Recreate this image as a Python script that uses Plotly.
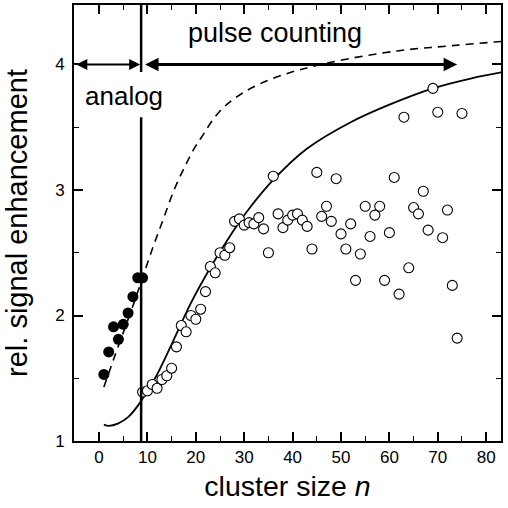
import plotly.graph_objects as go

# analog (filled) points
analog_n = [1, 2, 3, 4, 5, 6, 7, 8, 9]
analog_val = [1.53, 1.71, 1.91, 1.81, 1.93, 2.02, 2.15, 2.30, 2.30]

# pulse counting (open) points
pulse_n = list(range(9, 76))
pulse_val = [1.39, 1.40, 1.45, 1.42, 1.49, 1.52, 1.58, 1.75, 1.92, 1.87,
             2.00, 1.97, 2.05, 2.19, 2.39, 2.34, 2.50, 2.48, 2.54, 2.75,
             2.77, 2.72, 2.74, 2.73, 2.78, 2.69, 2.50, 3.11, 2.81, 2.70,
             2.76, 2.80, 2.81, 2.76, 2.71, 2.53, 3.14, 2.79, 2.87, 2.75,
             3.09, 2.65, 2.53, 2.73, 2.28, 2.49, 2.87, 2.63, 2.80, 2.87,
             2.28, 2.66, 3.10, 2.17, 3.58, 2.38, 2.86, 2.81, 2.99, 2.68,
             3.81, 3.62, 2.62, 2.84, 2.24, 1.82, 3.61]

# fit curves
solid_n = [1, 2, 4, 6, 8, 10, 12, 15, 19, 23, 27, 31, 36, 43, 52, 60, 69, 77, 85]
solid_val = [1.13, 1.12, 1.14, 1.19, 1.28, 1.40, 1.53, 1.77, 2.10, 2.38, 2.63, 2.85,
             3.08, 3.33, 3.54, 3.68, 3.81, 3.89, 3.95]

dash_n = [1, 3, 7.4, 11.2, 13.3, 15.4, 17.4, 19.5, 21, 25, 30, 36.7, 47, 62, 73, 85]
dash_val = [1.43, 1.65, 2.12, 2.55, 2.77, 2.99, 3.16, 3.32, 3.41, 3.63, 3.78, 3.90,
            4.01, 4.11, 4.15, 4.19]

font = 'Arial, Liberation Sans, sans-serif'
split_n = 8.7

fig = go.Figure()

fig.add_trace(go.Scatter(x=dash_n, y=dash_val, mode='lines', line_shape='spline',
                         line=dict(color='black', width=1.6, dash='8px,6px')))
fig.add_trace(go.Scatter(x=solid_n, y=solid_val, mode='lines', line_shape='spline',
                         line=dict(color='black', width=1.8)))
fig.add_trace(go.Scatter(x=analog_n, y=analog_val, mode='markers',
                         marker=dict(color='black', size=11, line=dict(width=0))))
fig.add_trace(go.Scatter(x=pulse_n, y=pulse_val, mode='markers',
                         marker=dict(color='white', size=10, line=dict(color='black', width=1.1))))

# vertical divider (gap for the "analog" label)
fig.add_shape(type='line', x0=split_n, x1=split_n, y0=1, y1=3.58,
              line=dict(color='black', width=2.5))
fig.add_shape(type='line', x0=split_n, x1=split_n, y0=3.94, y1=4.48,
              line=dict(color='black', width=2.5))

# arrows
fig.add_annotation(x=split_n - 0.2, y=4.0, ax=-5.0, ay=4.0, xref='x', yref='y',
                   axref='x', ayref='y', text='', showarrow=True, arrowside='end+start',
                   arrowhead=2, arrowsize=1.1, arrowwidth=2, arrowcolor='black')
fig.add_annotation(x=74, y=4.0, ax=split_n + 0.5, ay=4.0, xref='x', yref='y',
                   axref='x', ayref='y', text='', showarrow=True, arrowside='end+start',
                   arrowhead=2, arrowsize=0.9, arrowwidth=3, arrowcolor='black')

fig.add_annotation(x=36.4, y=4.25, text='pulse counting', showarrow=False,
                   font=dict(family=font, size=27, color='black'))
fig.add_annotation(x=5.1, y=3.75, text='analog', showarrow=False,
                   font=dict(family=font, size=26, color='black'))

axis_common = dict(showline=True, linecolor='black', linewidth=2, mirror='ticks',
                   ticks='inside', ticklen=9, tickwidth=1.5, tickcolor='black',
                   showgrid=False, zeroline=False, automargin=False,
                   tickfont=dict(family=font, size=17, color='black'))

fig.update_xaxes(range=[-5.17, 83.06], tickvals=[0, 10, 20, 30, 40, 50, 60, 70, 80],
                 minor=dict(dtick=5, tick0=0, ticks='inside', ticklen=5, tickwidth=1.2,
                            tickcolor='black'),
                 title=dict(text='cluster size <i>n</i>', font=dict(family=font, size=28.5, color='black'),
                            standoff=10),
                 **axis_common)
fig.update_yaxes(range=[1, 4.474], tickvals=[1, 2, 3, 4], ticklabelstandoff=4,
                 minor=dict(dtick=0.5, tick0=1, ticks='inside', ticklen=5, tickwidth=1.2,
                            tickcolor='black'),
                 title=dict(text='rel. signal enhancement', font=dict(family=font, size=29, color='black'),
                            standoff=19),
                 **axis_common)

fig.update_layout(width=508, height=508, showlegend=False,
                  margin=dict(l=74, r=7, t=5, b=67),
                  paper_bgcolor='white', plot_bgcolor='white')

fig.write_html('out.html', config={'displayModeBar': False},
               post_script="document.body.style.margin='0';")
